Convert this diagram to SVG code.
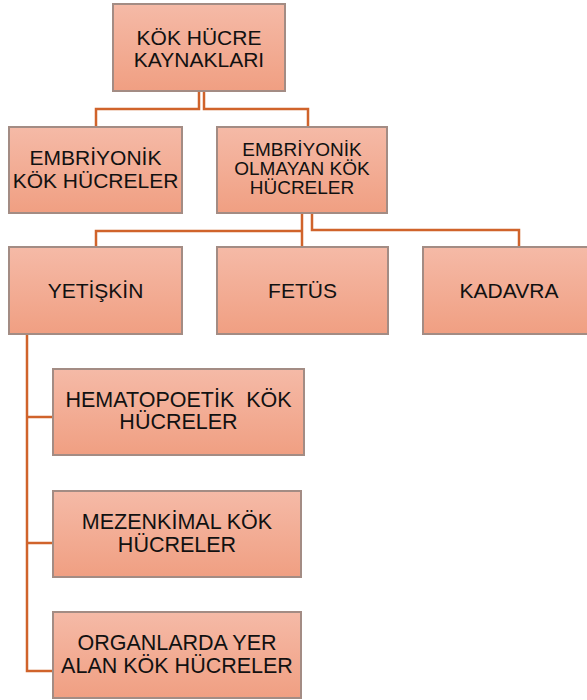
<svg xmlns="http://www.w3.org/2000/svg" width="587" height="700" viewBox="0 0 587 700">
<defs>
<linearGradient id="g" x1="0" y1="0" x2="0" y2="1">
<stop offset="0" stop-color="#f5baa7"/>
<stop offset="1" stop-color="#f09f82"/>
</linearGradient>
<style>
.box{fill:url(#g);stroke:#a38c84;stroke-width:2}
.t{font-family:"Liberation Sans",Arial,sans-serif;font-size:21px;fill:#111;text-anchor:middle}
.s{font-size:19px}
.l{font-size:21.5px}
.c{fill:none;stroke:#d0632b;stroke-width:2.5}
</style>
</defs>
<rect width="587" height="700" fill="#fff"/>
<g id="connectors">
<path class="c" d="M199 91V109H96V127"/>
<path class="c" d="M204 91V109H308V127"/>
<path class="c" d="M302 213V247"/>
<path class="c" d="M302 231H96V247"/>
<path class="c" d="M312 213V230H519V247"/>
<path class="c" d="M27 334V671H53"/>
<path class="c" d="M27 417H53"/>
<path class="c" d="M27 543H53"/>
</g>
<g id="n-kaynak"><rect class="box" x="113" y="4" width="172" height="87"/><text class="t" x="199" y="45">KÖK HÜCRE</text><text class="t" x="199" y="67">KAYNAKLARI</text></g>
<g id="n-emb"><rect class="box" x="9" y="127" width="173" height="86"/><text class="t" x="95.5" y="165">EMBRİYONİK</text><text class="t" x="95.5" y="188">KÖK HÜCRELER</text></g>
<g id="n-nonemb"><rect class="box" x="217" y="127" width="170" height="86"/><text class="t s" x="302" y="156">EMBRİYONİK</text><text class="t s" x="302" y="175">OLMAYAN KÖK</text><text class="t s" x="302" y="194">HÜCRELER</text></g>
<g id="n-yet"><rect class="box" x="9" y="247" width="173" height="87"/><text class="t" x="95.5" y="298">YETİŞKİN</text></g>
<g id="n-fetus"><rect class="box" x="217" y="247" width="171" height="87"/><text class="t" x="302.5" y="298">FETÜS</text></g>
<g id="n-kadavra"><rect class="box" x="423" y="247" width="172" height="87"/><text class="t" x="509" y="298">KADAVRA</text></g>
<g id="n-hemato"><rect class="box" x="53" y="369" width="251" height="86"/><text class="t l" x="178.5" y="407" xml:space="preserve">HEMATOPOETİK  KÖK</text><text class="t l" x="178.5" y="429">HÜCRELER</text></g>
<g id="n-mezen"><rect class="box" x="53" y="491" width="248" height="86"/><text class="t l" x="177" y="529">MEZENKİMAL KÖK</text><text class="t l" x="177" y="552">HÜCRELER</text></g>
<g id="n-organ"><rect class="box" x="53" y="612" width="248" height="86"/><text class="t l" x="177" y="650">ORGANLARDA YER</text><text class="t l" x="177" y="673">ALAN KÖK HÜCRELER</text></g>
</svg>
